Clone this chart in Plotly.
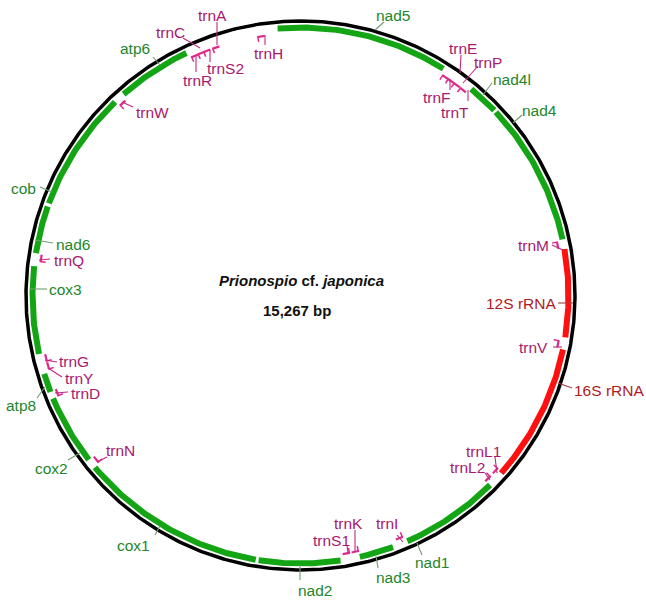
import numpy as np
import plotly.graph_objects as go

# ---------------- data ----------------
GENOME_LEN = 15267
TITLE_SPECIES = "<i>Prionospio</i> cf. <i>japonica</i>"
TITLE_SIZE = "15,267 bp"

gene_names = ["nad5", "nad4l", "nad4", "12S rRNA", "16S rRNA", "nad1", "nad3", "nad2",
              "cox1", "cox2", "atp8", "cox3", "nad6", "cob", "atp6"]
gene_start = [15059, 1679, 1985, 3393, 4309, 5725, 6777, 7269,
              8041, 9847, 10555, 10916, 11836, 12303, 13515]
gene_end = [1366, 1963, 3304, 4198, 5577, 6637, 7091, 8015,
            9758, 10492, 10729, 11717, 12273, 13410, 14198]
gene_kind = ["pcg", "pcg", "pcg", "rrna", "rrna", "pcg", "pcg", "pcg",
             "pcg", "pcg", "pcg", "pcg", "pcg", "pcg", "pcg"]

trna_names = ["trnF", "trnE", "trnP", "trnT", "trnM", "trnV", "trnL1", "trnL2", "trnI",
              "trnK", "trnS1", "trnN", "trnD", "trnY", "trnG", "trnQ", "trnW", "trnR",
              "trnC", "trnS2", "trnA", "trnH"]
trna_center = [1425, 1488, 1556, 1628, 3350, 4270, 5598, 5700, 6696,
               7125, 7209, 9809, 10530, 10793, 10869, 11798, 13456, 14258,
               14325, 14381, 14470, 14902]
TRNA_LEN = 64

# ---------------- layout / style ----------------
W, H = 646, 600
CX, CY = 300.5, 295.5
R_BACK = 274.5
R_GENE = 268.0
R_TRNA = 262.0

COL_PCG = "#14a514"
COL_RRNA = "#ff1010"
COL_TRNA = "#e0288a"
TXT = {"pcg": "#23862a", "rrna": "#b01a1e", "trna": "#a8196e"}
LEAD = {"pcg": "#6f9f6f", "rrna": "#a04040", "trna": "#c02a80"}
FONT = "Liberation Sans, Arial, sans-serif"
LABEL_SIZE = 15.5

# label placement: text centre, leader (near text) -> (near feature)
label_layout = {
    "nad5": (393, 15, (384, 22), (375, 30)),
    "nad4l": (512, 79, (492, 83), (483, 95)),
    "nad4": (539, 110, (522, 115), (513, 123)),
    "nad1": (432, 562, (422, 555), (417, 543)),
    "nad3": (393, 577, (378, 568), (376, 556)),
    "nad2": (315, 590, (300, 580), (300, 565)),
    "cox1": (133, 545, (155, 535), (160, 526)),
    "cox2": (51, 468, (68, 460), (80, 453)),
    "atp8": (21, 405, (37, 398), (45, 387)),
    "cox3": (65, 289, (47, 289), (30, 289)),
    "nad6": (73, 244, (53, 243), (35, 240)),
    "cob": (23, 188, (40, 187), (52, 192)),
    "atp6": (135, 48, (153, 57), (160, 65)),
    "12S rRNA": (521, 303, (558, 303), (573, 303)),
    "16S rRNA": (609, 390, (572, 388), (558, 383)),
    "trnE": (463, 48, (461, 55), (460, 73)),
    "trnP": (488, 62, (478, 66), (463, 83)),
    "trnF": (437, 97, (450, 90), (450, 79)),
    "trnT": (455, 112, (468, 101), (468, 90)),
    "trnM": (533, 245, (552, 245), (563, 250)),
    "trnV": (533, 347, (553, 347), (562, 347)),
    "trnL1": (483, 451, (495, 457), (497, 473)),
    "trnL2": (467, 467, (485, 473), (490, 480)),
    "trnI": (387, 523, (397, 535), (403, 542)),
    "trnK": (348, 523, (355, 530), (355, 552)),
    "trnS1": (331, 540, (347, 545), (348, 553)),
    "trnN": (120, 450, (107, 457), (97, 462)),
    "trnD": (85, 393, (68, 392), (55, 393)),
    "trnY": (79, 378, (62, 377), (48, 368)),
    "trnG": (74, 361, (57, 362), (45, 360)),
    "trnQ": (69, 260, (50, 259), (39, 260)),
    "trnW": (152, 112, (133, 107), (122, 102)),
    "trnR": (197, 80, (196, 72), (196, 55)),
    "trnC": (170, 32, (183, 38), (200, 48)),
    "trnS2": (225, 68, (210, 62), (210, 50)),
    "trnA": (212, 15, (217, 22), (217, 45)),
    "trnH": (268, 53, (265, 45), (265, 35)),
}


def bp2xy(bp, r):
    a = np.radians(np.asarray(bp, dtype=float) / GENOME_LEN * 360.0)
    return CX + r * np.sin(a), CY - r * np.cos(a)


def arc(s, e, r, n=None):
    if e < s:
        e += GENOME_LEN
    if n is None:
        n = max(8, int((e - s) / 20))
    bp = np.linspace(s, e, n)
    return bp2xy(bp, r)


fig = go.Figure()

# backbone
bx, by = arc(0, GENOME_LEN - 0.001, R_BACK, 720)
fig.add_trace(go.Scatter(x=np.append(bx, bx[0]), y=np.append(by, by[0]), mode="lines",
                         line=dict(color="black", width=3.5), hoverinfo="skip"))

# genes
for name, s, e, k in zip(gene_names, gene_start, gene_end, gene_kind):
    x, y = arc(s, e, R_GENE)
    fig.add_trace(go.Scatter(x=x, y=y, mode="lines",
                             line=dict(color=COL_PCG if k == "pcg" else COL_RRNA, width=6),
                             hoverinfo="skip"))

# tRNAs (small flag glyphs)
for name, c in zip(trna_names, trna_center):
    x, y = arc(c - TRNA_LEN / 2, c + TRNA_LEN / 2, R_TRNA, 6)
    fig.add_trace(go.Scatter(x=x, y=y, mode="lines", line=dict(color=COL_TRNA, width=2.2),
                             hoverinfo="skip"))
    sx, sy = bp2xy([c - TRNA_LEN / 2, c - TRNA_LEN / 2], [R_TRNA + 1, R_TRNA - 5])
    fig.add_trace(go.Scatter(x=sx, y=sy, mode="lines", line=dict(color=COL_TRNA, width=1.5),
                             hoverinfo="skip"))

# labels and leaders
kind_of = {n: k for n, k in zip(gene_names, gene_kind)}
kind_of.update({n: "trna" for n in trna_names})
annotations = []
for name, (tx, ty, p1, p2) in label_layout.items():
    k = kind_of[name]
    fig.add_trace(go.Scatter(x=[p1[0], p2[0]], y=[p1[1], p2[1]], mode="lines",
                             line=dict(color=LEAD[k], width=1.1), hoverinfo="skip"))
    annotations.append(dict(x=tx, y=ty, text=name, showarrow=False, xanchor="center",
                            yanchor="middle",
                            font=dict(family=FONT, size=LABEL_SIZE, color=TXT[k])))

annotations.append(dict(x=301, y=280, text="<b>" + TITLE_SPECIES + "</b>", showarrow=False,
                        font=dict(family=FONT, size=15, color="#111111")))
annotations.append(dict(x=297, y=310, text="<b>" + TITLE_SIZE + "</b>", showarrow=False,
                        font=dict(family=FONT, size=15, color="#111111")))

fig.update_layout(
    width=W, height=H, margin=dict(l=0, r=0, t=0, b=0),
    paper_bgcolor="white", plot_bgcolor="white", showlegend=False,
    xaxis=dict(range=[0, W], visible=False, fixedrange=True),
    yaxis=dict(range=[H, 0], visible=False, fixedrange=True),
    annotations=annotations,
)

fig.write_html("out.html", config={"displayModeBar": False},
               post_script="document.body.style.margin='0';document.body.style.overflow='hidden';")
